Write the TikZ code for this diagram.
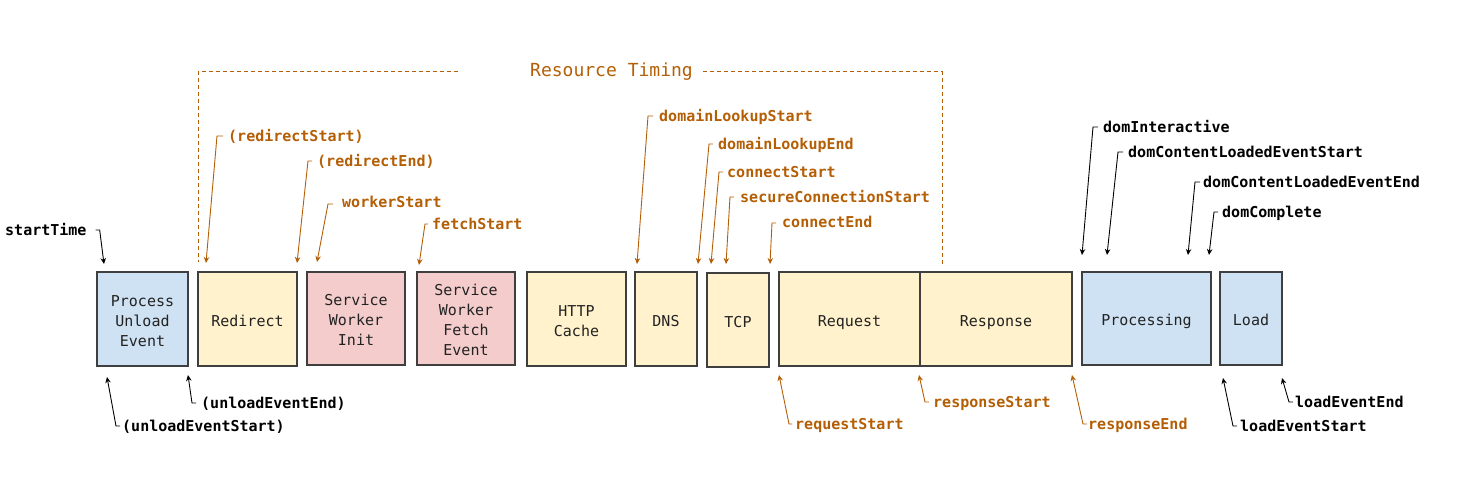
\documentclass[tikz,border=0pt]{standalone}
\usepackage{fontspec}
\newfontfamily\mono{DejaVu Sans Mono}
\usetikzlibrary{arrows.meta}
\definecolor{rtor}{HTML}{B45F06}
\definecolor{bordc}{HTML}{3F3F3F}
\definecolor{boxtext}{HTML}{222222}
\definecolor{fblue}{HTML}{CFE2F3}
\definecolor{fyel}{HTML}{FFF2CC}
\definecolor{fpink}{HTML}{F4CCCC}
\begin{document}
\begin{tikzpicture}[x=1pt,y=-1pt,
  tbox/.style={draw=bordc, line width=1.2pt, inner sep=0pt},
  btext/.style={inner sep=0pt, align=center,
    font=\mono\fontsize{15}{20}\selectfont, text=boxtext},
  bone/.style={btext, text height=14pt, text depth=0pt},
  lab/.style={anchor=west, inner sep=0pt, font=\mono\bfseries\fontsize{15}{18}\selectfont,
    text height=11pt, text depth=0pt},
  olab/.style={lab, text=rtor},
  arr/.style={-{Stealth[length=6pt,width=5.5pt]}, line width=0.9pt},
  oarr/.style={arr, draw=rtor},
  bracket/.style={draw=rtor, line width=1pt, dash pattern=on 4pt off 3pt}]
\useasboundingbox (0,0) rectangle (1464,481);

% boxes
\node[tbox, fill=fblue, minimum width=91pt, minimum height=94pt] (pue) at (142.5,319) {};
\node[tbox, fill=fyel, minimum width=99pt, minimum height=94pt] (red) at (247.5,319) {};
\node[tbox, fill=fpink, minimum width=98pt, minimum height=93pt] (swi) at (356,318.5) {};
\node[tbox, fill=fpink, minimum width=98pt, minimum height=93pt] (swf) at (466,318.5) {};
\node[tbox, fill=fyel, minimum width=99pt, minimum height=94pt] (http) at (576.5,319) {};
\node[tbox, fill=fyel, minimum width=62pt, minimum height=94pt] (dns) at (666,319) {};
\node[tbox, fill=fyel, minimum width=62pt, minimum height=94pt] (tcp) at (738,320) {};
\node[tbox, fill=fyel, minimum width=141pt, minimum height=94pt] (req) at (849.5,319) {};
\node[tbox, fill=fyel, minimum width=152pt, minimum height=94pt] (resp) at (996,319) {};
\node[tbox, fill=fblue, minimum width=129pt, minimum height=93pt] (proc) at (1146.5,318.5) {};
\node[tbox, fill=fblue, minimum width=62pt, minimum height=93pt] (load) at (1251,318.5) {};

% box texts
\node[btext] (pue-t) at ([yshift=-2pt]pue.center) {Process\\Unload\\Event};
\node[bone] (red-t) at (red.center) {Redirect};
\node[btext] (swi-t) at ([yshift=-1pt]swi.center) {Service\\Worker\\Init};
\node[btext] (swf-t) at ([yshift=-1pt]swf.center) {Service\\Worker\\Fetch\\Event};
\node[btext] (http-t) at ([yshift=-2pt]http.center) {HTTP\\Cache};
\node[bone] (dns-t) at (dns.center) {DNS};
\node[bone] (tcp-t) at (tcp.center) {TCP};
\node[bone] (req-t) at (req.center) {Request};
\node[bone] (resp-t) at (resp.center) {Response};
\node[bone] (proc-t) at (proc.center) {Processing};
\node[bone] (load-t) at (load.center) {Load};

% Resource Timing bracket
\node[inner sep=0pt, text=rtor, font=\mono\fontsize{18}{20}\selectfont] (rt) at (611.5,72) {Resource Timing};
\coordinate (brl1) at (458,72);
\coordinate (brl2) at (198,72);
\coordinate (brl3) at (198,262);
\coordinate (brr1) at (703,72);
\coordinate (brr2) at (942,72);
\coordinate (brr3) at (942,265);
\draw[bracket] (brl1) -- (brl2) -- (brl3);
\draw[bracket] (brr1) -- (brr2) -- (brr3);

% arrow tips
\coordinate (stT) at (104,264);
\coordinate (rsT) at (206,263);
\coordinate (reT) at (297,263);
\coordinate (wsT) at (317,262);
\coordinate (fsT) at (419,265);
\coordinate (dlsT) at (637,264);
\coordinate (dleT) at (698,264);
\coordinate (csT) at (711,264);
\coordinate (scsT) at (726,264);
\coordinate (ceT) at (770,264);
\coordinate (diT) at (1082,255);
\coordinate (dclsT) at (1107,255);
\coordinate (dcleT) at (1188,255);
\coordinate (dcT) at (1209,255);
\coordinate (uesT) at (107,377);
\coordinate (ueeT) at (188,375);
\coordinate (lesT) at (1223,378);
\coordinate (leeT) at (1282,378);
\coordinate (rqsT) at (779,375);
\coordinate (rssT) at (919,375);
\coordinate (rseT) at (1072,375);

% top labels
\node[lab] (st) at (5,230) {startTime};
\node[olab] (rs) at (228,136) {(redirectStart)};
\node[olab] (re) at (317,161) {(redirectEnd)};
\node[olab] (ws) at (342,202) {workerStart};
\node[olab] (fs) at (432,224) {fetchStart};
\node[olab] (dls) at (659,116) {domainLookupStart};
\node[olab] (dle) at (718,144) {domainLookupEnd};
\node[olab] (cs) at (727,172) {connectStart};
\node[olab] (scs) at (740,197) {secureConnectionStart};
\node[olab] (ce) at (782,222) {connectEnd};
\node[lab] (di) at (1103,127) {domInteractive};
\node[lab] (dcls) at (1128,152) {domContentLoadedEventStart};
\node[lab] (dcle) at (1203,182) {domContentLoadedEventEnd};
\node[lab] (dc) at (1222,212) {domComplete};

% bottom labels
\node[lab] (ues) at (122,426) {(unloadEventStart)};
\node[lab] (uee) at (201,403) {(unloadEventEnd)};
\node[lab] (les) at (1240,426) {loadEventStart};
\node[lab] (lee) at (1295,402) {loadEventEnd};
\node[olab] (rqs) at (795,424) {requestStart};
\node[olab] (rss) at (933,402) {responseStart};
\node[olab] (rse) at (1088,424) {responseEnd};

% top connectors
\draw[arr] ([xshift=9pt]st.east) -- ++(4,0) -- (stT);
\draw[oarr] ([xshift=-5pt]rs.west) -- ++(-6,0) -- (rsT);
\draw[oarr] ([xshift=-5pt]re.west) -- ++(-4,0) -- (reT);
\draw[oarr] ([xshift=-9pt,yshift=-2pt]ws.west) -- ++(-5,0) -- (wsT);
\draw[oarr] ([xshift=-4pt]fs.west) -- ++(-3,0) -- (fsT);
\draw[oarr] ([xshift=-6pt]dls.west) -- ++(-5,0) -- (dlsT);
\draw[oarr] ([xshift=-5pt]dle.west) -- ++(-4,0) -- (dleT);
\draw[oarr] ([xshift=-4pt]cs.west) -- ++(-4,0) -- (csT);
\draw[oarr] ([xshift=-6pt]scs.west) -- ++(-4,0) -- (scsT);
\draw[oarr] ([xshift=-6pt,yshift=-1pt]ce.west) -- ++(-4,0) -- (ceT);
\draw[arr] ([xshift=-5pt]di.west) -- ++(-5,0) -- (diT);
\draw[arr] ([xshift=-5pt]dcls.west) -- ++(-5,0) -- (dclsT);
\draw[arr] ([xshift=-3pt]dcle.west) -- ++(-5,0) -- (dcleT);
\draw[arr] ([xshift=-4pt]dc.west) -- ++(-4,0) -- (dcT);

% bottom connectors
\draw[arr] ([xshift=-2pt]ues.west) -- ++(-4,0) -- (uesT);
\draw[arr] ([xshift=-5pt]uee.west) -- ++(-4,0) -- (ueeT);
\draw[arr] ([xshift=-3pt]les.west) -- ++(-4,0) -- (lesT);
\draw[arr] ([xshift=-2pt]lee.west) -- ++(-4,0) -- (leeT);
\draw[oarr] ([xshift=-3pt]rqs.west) -- ++(-3,0) -- (rqsT);
\draw[oarr] ([xshift=-4pt]rss.west) -- ++(-4,0) -- (rssT);
\draw[oarr] ([xshift=-1pt]rse.west) -- ++(-4,0) -- (rseT);
\end{tikzpicture}
\end{document}
